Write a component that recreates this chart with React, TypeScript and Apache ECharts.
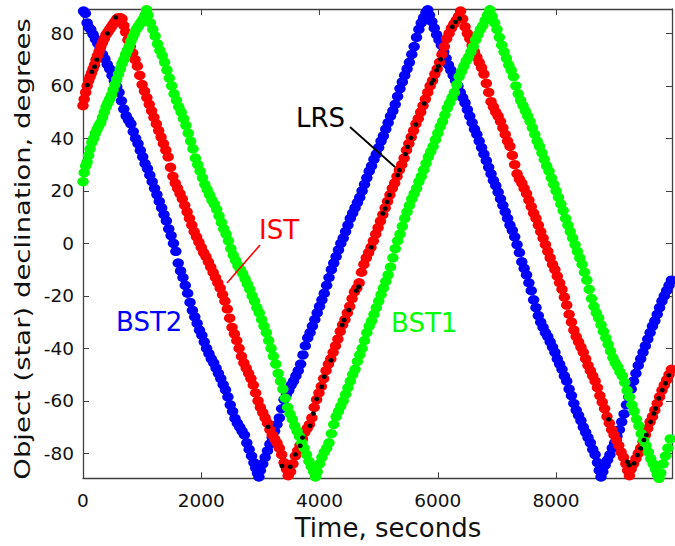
import React, { useEffect, useRef } from "react";
import * as echarts from "echarts";

// Time (s), declination (deg)
const bst2: number[][] = [
  [10,88.5],[40,87.6],[70,84],[95,82.4],[130,81.5],[170,79.6],[210,77.8],[250,76.2],[290,74.4],[330,72],[370,70.3],[410,68.2],[450,66.5],[490,64],[530,62],[570,59.7],[610,57.5],[650,54.3],[690,51.2],[730,48.6],[770,47],[810,45.5],[850,42.6],[890,40],[930,38],[970,35.4],[1010,33],[1050,30.4],[1090,28.5],[1130,26],[1170,23.5],[1210,21],[1250,18.6],[1290,16],[1330,13.5],[1370,11],[1410,8.6],[1450,5.5],[1490,3],[1530,0],[1570,-3],[1610,-7.5],[1650,-10.5],[1690,-13],[1730,-16],[1770,-19],[1810,-22.5],[1850,-25.5],[1890,-28],[1930,-30.5],[1970,-33],[2010,-35],[2050,-37.5],[2090,-40],[2130,-42],[2170,-44],[2210,-45.5],[2250,-47.5],[2290,-49.5],[2330,-51.5],[2370,-53.8],[2410,-55.8],[2450,-58.5],[2490,-61.5],[2530,-64],[2570,-66.7],[2610,-68.5],[2650,-70],[2690,-71.5],[2730,-73],[2770,-76],[2810,-78.5],[2850,-81],[2890,-83.5],[2920,-85.5],[2950,-87.5],[2975,-89],
  [3000,-86.5],[3040,-84],[3080,-81.5],[3120,-79],[3160,-76.5],[3200,-74],[3240,-71.5],[3280,-69],[3320,-66.5],[3360,-63],[3400,-59.5],[3440,-57.5],[3480,-56],[3520,-54],[3560,-52.5],[3600,-50.5],[3640,-48.5],[3680,-46],[3720,-42.5],[3760,-39],[3800,-36],[3840,-34],[3880,-31.5],[3920,-29],[3960,-26.5],[4000,-24],[4040,-21.5],[4080,-19],[4120,-16],[4160,-13],[4200,-10],[4240,-7.5],[4280,-5],[4320,-2.5],[4360,0],[4400,2],[4440,4.5],[4480,7],[4520,9.5],[4560,11.5],[4600,13.5],[4640,15.5],[4680,17.5],[4720,20],[4760,22.5],[4800,25],[4840,27.5],[4880,29.5],[4920,32],[4960,34],[5000,36.5],[5040,39],[5080,41],[5120,43.5],[5160,46],[5200,48.5],[5240,50.5],[5280,53],[5320,56],[5360,59],[5400,61.5],[5440,64],[5480,66.5],[5520,69],[5560,72],[5600,75],[5640,78.5],[5680,81.5],[5720,84],[5760,86],[5800,88],[5830,89],
  [5860,87],[5900,84.5],[5940,82],[5980,79.5],[6020,77.5],[6060,75.5],[6100,73],[6140,70.5],[6180,68],[6220,66],[6260,64],[6300,62],[6340,60],[6380,57.5],[6420,55.5],[6460,53.5],[6500,51],[6540,48.5],[6580,46],[6620,43.5],[6660,41.5],[6700,39],[6740,36.5],[6780,34],[6820,31.5],[6860,29],[6900,26.5],[6940,24],[6980,22],[7020,19.5],[7060,17],[7100,14.5],[7140,12],[7180,9.5],[7220,7],[7260,5],[7300,2.5],[7340,-0.5],[7380,-3.5],[7420,-7],[7460,-9.5],[7500,-12],[7540,-15],[7580,-18],[7620,-21.5],[7660,-24.5],[7700,-27.5],[7740,-30],[7780,-32],[7820,-34],[7860,-35.5],[7900,-37.5],[7940,-39.5],[7980,-41.5],[8020,-44],[8060,-46],[8100,-48],[8140,-50.5],[8180,-52.5],[8220,-55.5],[8260,-58],[8300,-61],[8340,-63.5],[8380,-65.5],[8420,-67.5],[8460,-70],[8500,-72],[8540,-74],[8580,-76],[8620,-78.5],[8660,-80.5],[8700,-83.5],[8730,-86.5],[8760,-89],
  [8790,-87],[8830,-84.5],[8870,-82.5],[8910,-80.5],[8950,-78],[8990,-76],[9030,-73.5],[9070,-71],[9110,-68],[9150,-65],[9190,-61.5],[9230,-58.5],[9270,-55.5],[9310,-52.5],[9350,-49.5],[9390,-46.5],[9430,-44],[9470,-41.5],[9510,-39],[9550,-36.5],[9590,-34],[9630,-31.5],[9670,-29.5],[9710,-27],[9750,-24.5],[9790,-22],[9830,-20],[9870,-18],[9910,-16],[9950,-14]
];

const ist: number[][] = [
  [0,52.5],[20,55],[45,57.5],[70,60],[95,62],[120,63.5],[145,65],[170,66.5],[195,68],[220,70],[245,71.5],[270,73],[300,75],[330,76.5],[360,78],[390,79.5],[420,80.5],[450,81.5],[480,82.5],[510,83.5],[540,84.5],[570,85.5],[600,86],[630,86],[660,85.5],
  [690,83],[720,80.5],[760,77.5],[800,75],[840,72.5],[880,70],[920,67.5],[960,64],[1000,60.5],[1040,58],[1080,55.5],[1120,53],[1160,50.5],[1200,48],[1240,45.5],[1280,43],[1320,40.5],[1360,38],[1400,35.5],[1440,33],[1480,29],[1520,25.5],[1560,23],[1600,21],[1640,19],[1680,17],[1720,14.5],[1760,12],[1800,9.5],[1840,7],[1880,4.5],[1920,2.5],[1960,0.5],[2000,-1.5],[2040,-3.5],[2080,-5],[2120,-7],[2160,-9],[2200,-11],[2240,-13],[2280,-15],[2320,-17],[2360,-19.5],[2400,-22],[2440,-25],[2480,-28.5],[2520,-32],[2560,-34.5],[2600,-37],[2640,-40],[2680,-43],[2720,-45.5],[2760,-47.5],[2800,-49.5],[2840,-51.5],[2880,-54],[2920,-57],[2960,-60],[3000,-62.5],[3040,-64.5],[3080,-66.5],[3120,-68.5],[3160,-71],[3200,-73],[3240,-74.5],[3280,-76],[3320,-78],[3360,-80.5],[3400,-83.5],[3440,-86],[3470,-88.5],
  [3510,-87],[3550,-84],[3590,-81],[3630,-79],[3670,-77],[3710,-74.5],[3750,-72],[3790,-70.5],[3830,-69],[3870,-66.5],[3910,-62.5],[3950,-59.5],[3990,-57],[4030,-54.5],[4070,-51.5],[4110,-48.5],[4150,-46],[4190,-44],[4230,-41.5],[4270,-39],[4310,-36.5],[4350,-33.5],[4390,-31],[4430,-29],[4470,-26.5],[4510,-24],[4550,-21],[4590,-18.5],[4630,-17],[4670,-15],[4710,-11],[4750,-8],[4790,-5.5],[4830,-3.5],[4870,-1.5],[4910,1],[4950,3.5],[4990,6],[5030,8.5],[5070,11],[5110,13.5],[5150,16],[5190,18.5],[5230,21],[5270,23],[5310,25.5],[5350,28],[5390,30],[5430,32.5],[5470,35.5],[5510,38],[5550,40.5],[5590,43],[5630,45.5],[5670,47.5],[5710,50],[5750,52.5],[5790,55],[5830,57.5],[5870,60],[5910,62],[5950,64.5],[5990,66.5],[6030,69],[6070,72],[6110,75],[6150,78],[6190,80],[6230,82],[6270,83.5],[6310,85],[6350,86.5],[6385,88.5],
  [6420,85.5],[6460,82.5],[6500,80],[6540,78],[6580,75.5],[6620,73],[6660,71],[6700,69],[6740,67],[6780,64.5],[6820,61],[6860,57.5],[6900,54],[6940,52],[6980,50],[7020,48.5],[7060,46.5],[7100,44],[7140,41.5],[7180,39],[7220,37],[7260,33.5],[7300,30],[7340,26.5],[7380,24.5],[7420,23],[7460,21],[7500,19],[7540,16.5],[7580,14],[7620,11.5],[7660,9.5],[7700,7],[7740,4.5],[7780,2],[7820,-0.5],[7860,-3],[7900,-5.5],[7940,-8],[7980,-10],[8020,-12.5],[8060,-15],[8100,-17.5],[8140,-20.5],[8180,-23.5],[8220,-27],[8260,-30],[8300,-33],[8340,-35.5],[8380,-37.5],[8420,-39.5],[8460,-41.5],[8500,-44],[8540,-46.5],[8580,-48.5],[8620,-50.5],[8660,-52.5],[8700,-55],[8740,-58],[8780,-60.5],[8820,-63],[8860,-66],[8900,-68.5],[8940,-71],[8980,-73],[9020,-75],[9060,-77],[9100,-79.5],[9140,-81.5],[9180,-84],[9210,-86.5],[9240,-88.5],
  [9270,-86],[9310,-84],[9350,-82],[9390,-80],[9430,-78],[9470,-75.5],[9510,-73],[9550,-70.5],[9590,-68],[9630,-66],[9670,-63.5],[9710,-61],[9750,-58.5],[9790,-56],[9830,-54],[9870,-52],[9910,-50],[9950,-48]
];

const bst1: number[][] = [
  [0,23.5],[20,27],[45,29.5],[70,31],[95,33.5],[120,36],[150,38.5],[180,40],[210,42],[240,43.5],[270,45],[300,46],[330,48],[360,50],[390,52],[420,53.5],[450,55],[480,56.5],[510,58.5],[540,60.5],[570,62.5],[600,64.5],[630,66.5],[660,68.5],[690,70],[720,72],[750,73.5],[780,75],[810,77],[840,78.5],[870,80],[900,81.5],[930,82.5],[960,83.5],[990,84.5],[1020,85.5],[1050,87],[1075,89],
  [1100,87],[1140,84],[1180,81.5],[1220,79],[1260,76],[1300,73.5],[1340,71.5],[1380,69],[1420,66],[1460,63],[1500,60],[1540,57],[1580,54.5],[1620,52],[1660,50],[1700,47.5],[1740,45],[1780,42],[1820,39],[1860,36],[1900,32.5],[1940,30],[1980,27.5],[2020,25],[2060,22.5],[2100,20.5],[2140,18.5],[2180,16.5],[2220,15],[2260,13],[2300,10.5],[2340,8],[2380,5.5],[2420,3.5],[2460,1],[2500,-2],[2540,-4.5],[2580,-6.5],[2620,-8.5],[2660,-10],[2700,-11.5],[2740,-13.5],[2780,-15.5],[2820,-17.5],[2860,-20],[2900,-22],[2940,-24.5],[2980,-26.5],[3020,-29],[3060,-31.5],[3100,-34],[3140,-37],[3180,-40],[3220,-43],[3260,-46],[3300,-49.5],[3340,-52.5],[3380,-55.5],[3420,-59],[3460,-62.5],[3500,-65],[3540,-67],[3580,-69.5],[3620,-71.5],[3660,-73.5],[3700,-76],[3740,-78],[3780,-80.5],[3820,-83],[3860,-85],[3900,-87],[3930,-89],
  [3960,-87],[4000,-84],[4040,-81.5],[4080,-79.5],[4120,-78],[4160,-76],[4200,-72.5],[4240,-69],[4280,-66],[4320,-64],[4360,-62],[4400,-60],[4440,-57.5],[4480,-55],[4520,-52.5],[4560,-50],[4600,-48],[4640,-45],[4680,-42.5],[4720,-40],[4760,-37],[4800,-34],[4840,-31.5],[4880,-29.5],[4920,-27],[4960,-24.5],[5000,-22],[5040,-19.5],[5080,-17],[5120,-14.5],[5160,-12],[5200,-9],[5240,-5.5],[5280,-2],[5320,1],[5360,3.5],[5400,6.5],[5440,9.5],[5480,12],[5520,14.5],[5560,17],[5600,19],[5640,21],[5680,23.5],[5720,25.5],[5760,28],[5800,30.5],[5840,33],[5880,35],[5920,37],[5960,39.5],[6000,42],[6040,44.5],[6080,46.5],[6120,49],[6160,51.5],[6200,53.5],[6240,55.5],[6280,57.5],[6320,60.5],[6360,63.5],[6400,65.5],[6440,67.5],[6480,69.5],[6520,71],[6560,73],[6600,75],[6640,77.5],[6680,79.5],[6720,81.5],[6760,83],[6800,85],[6840,87],[6880,89],
  [6920,86.5],[6960,84],[7000,81.5],[7040,78.5],[7080,75.5],[7120,73],[7160,70.5],[7200,68],[7240,66],[7280,63.5],[7320,60],[7360,57],[7400,54.5],[7440,52.5],[7480,50.5],[7520,48.5],[7560,46.5],[7600,44],[7640,41.5],[7680,39],[7720,37],[7760,34.5],[7800,32],[7840,29.5],[7880,27.5],[7920,25],[7960,22.5],[8000,20],[8040,17.5],[8080,15],[8120,12.5],[8160,9.5],[8200,7],[8240,4.5],[8280,2],[8320,-0.5],[8360,-3],[8400,-5.5],[8440,-8],[8480,-11],[8520,-14],[8560,-17.5],[8600,-21],[8640,-24],[8680,-26.5],[8720,-28.5],[8760,-31],[8800,-33.5],[8840,-36],[8880,-38.5],[8920,-41],[8960,-43.5],[9000,-45.5],[9040,-47],[9080,-49],[9120,-50.5],[9160,-53],[9200,-56],[9240,-58.5],[9280,-61.5],[9320,-64],[9360,-67],[9400,-69.5],[9440,-72.5],[9480,-75],[9520,-77],[9560,-79.5],[9600,-82],[9640,-84],[9680,-86],[9710,-88],[9740,-89.5],
  [9770,-87.5],[9810,-84],[9850,-81],[9890,-78],[9930,-74.5]
];

const lrs: number[][] = [
  [72,60.3],[151,65.4],[195,67.3],[234,70],[413,80],[553,86.1],
  [3130,-69.9],[3365,-84.8],[3505,-85.1],[3589,-80.4],[3673,-77.1],[3711,-74],[3840,-69.5],[3896,-64.8],[3952,-59.3],[4035,-54.6],[4080,-50.8],[4193,-44.5],
  [4382,-31.1],[4416,-29.2],[4495,-25.4],[4622,-18],[4662,-16.5],[4874,-1.5],[5070,11.4],[5109,13.3],[5142,15.8],[5182,18.4],[5322,26],[5350,27.9],[5451,34],[5490,36.8],[5545,40.2],[5629,45.3],[5770,53.3],[5892,61],[5926,62.2],[5981,66],[6010,67.5],[6048,70.1],[6244,82.5],[6300,84.4],[6367,85.7],
  [8889,-67],[9207,-83.2],[9235,-84.5],[9318,-83.8],[9375,-80.6],[9430,-78.1],[9486,-74.9],[9526,-73],[9598,-68],[9654,-64.8],[9682,-62.9],[9738,-59],[9795,-55.9],[9850,-53.3],[9906,-50.2]
];

const X_MIN = 0;
const X_MAX = 9960;
const Y_MIN = -89.5;
const Y_MAX = 89.3;
const X_TITLE = "Time, seconds";
const Y_TITLE = "Object (star) declination, degrees";

const FONT = "'DejaVu Sans', Verdana, sans-serif";
const AXIS_COLOR = "#404040";

export default function App() {
  const ref = useRef<HTMLDivElement>(null);
  useEffect(() => {
    if (!ref.current) return;
    const chart = echarts.init(ref.current, undefined, { renderer: "svg" });
    const tick = { show: true, inside: true, length: 6, lineStyle: { color: AXIS_COLOR, width: 1 } };
    const line = { show: true, onZero: false, lineStyle: { color: AXIS_COLOR, width: 1.3 } };
    const labelStyle = { color: "#111", fontFamily: FONT, fontSize: 18.5 };
    const scatter = (name: string, data: number[][], color: string, size: any, z: number) => ({
      name,
      type: "scatter",
      data,
      symbol: "circle",
      symbolSize: size,
      itemStyle: { color, opacity: 1 },
      z,
      silent: true,
      clip: true,
    });
    chart.setOption({
      animation: false,
      backgroundColor: "#fff",
      grid: { left: 83, top: 9, width: 594, height: 469.3, containLabel: false },
      xAxis: [
        {
          type: "value", min: X_MIN, max: X_MAX, interval: 2000, position: "bottom",
          axisLine: line, axisTick: tick, splitLine: { show: false },
          axisLabel: {
            ...labelStyle, margin: 13,
            formatter: (v: number) => (v % 2000 === 0 ? String(v) : ""),
          },
        },
        {
          type: "value", min: X_MIN, max: X_MAX, interval: 2000, position: "top",
          axisLine: line, axisTick: tick, splitLine: { show: false }, axisLabel: { show: false },
        },
      ],
      yAxis: [
        {
          type: "value", min: Y_MIN, max: Y_MAX, splitNumber: 9, position: "left",
          axisLine: line, axisTick: tick, splitLine: { show: false },
          axisLabel: {
            ...labelStyle, margin: 9, showMinLabel: false, showMaxLabel: false,
            formatter: (v: number) => (v % 20 === 0 ? String(v) : ""),
          },
        },
        {
          type: "value", min: Y_MIN, max: Y_MAX, splitNumber: 9, position: "right",
          axisLine: line, axisTick: tick, splitLine: { show: false }, axisLabel: { show: false },
        },
      ],
      series: [
        scatter("BST2", bst2, "#0000ff", [11.5, 9.5], 2),
        scatter("IST", ist, "#ff0000", [11.5, 9.5], 3),
        scatter("BST1", bst1, "#00ff00", [11.5, 9.5], 4),
        scatter("LRS", lrs, "#000000", [5, 4.5], 5),
      ],
      graphic: [
        {
          type: "text", x: 388, y: 528, z: 100,
          style: { text: X_TITLE, font: `26px ${FONT}`, fill: "#111", textAlign: "center", textVerticalAlign: "middle" },
        },
        {
          type: "text", x: 22, y: 249, rotation: Math.PI / 2, scaleX: 1.25, z: 100,
          style: { text: Y_TITLE, font: `22px ${FONT}`, fill: "#111", textAlign: "center", textVerticalAlign: "middle" },
        },
        {
          type: "text", x: 296, y: 118, z: 100,
          style: { text: "LRS", font: `26px ${FONT}`, fill: "#000", textAlign: "left", textVerticalAlign: "middle" },
        },
        { type: "line", z: 100, shape: { x1: 350, y1: 127, x2: 395, y2: 167 }, style: { stroke: "#000", lineWidth: 1.8 } },
        {
          type: "text", x: 259, y: 230, z: 100,
          style: { text: "IST", font: `26px ${FONT}`, fill: "#ff0000", textAlign: "left", textVerticalAlign: "middle" },
        },
        { type: "line", z: 100, shape: { x1: 260, y1: 245, x2: 227, y2: 283 }, style: { stroke: "#ff0000", lineWidth: 1.6 } },
        {
          type: "text", x: 116, y: 322, z: 100,
          style: { text: "BST2", font: `26px ${FONT}`, fill: "#0000ff", textAlign: "left", textVerticalAlign: "middle" },
        },
        {
          type: "text", x: 391, y: 323, z: 100,
          style: { text: "BST1", font: `26px ${FONT}`, fill: "#00ff00", textAlign: "left", textVerticalAlign: "middle" },
        },
      ],
    });
    return () => chart.dispose();
  }, []);
  return (
    <div
      ref={ref}
      style={{ position: "fixed", left: 0, top: 0, width: 675, height: 546, background: "#fff" }}
    />
  );
}
